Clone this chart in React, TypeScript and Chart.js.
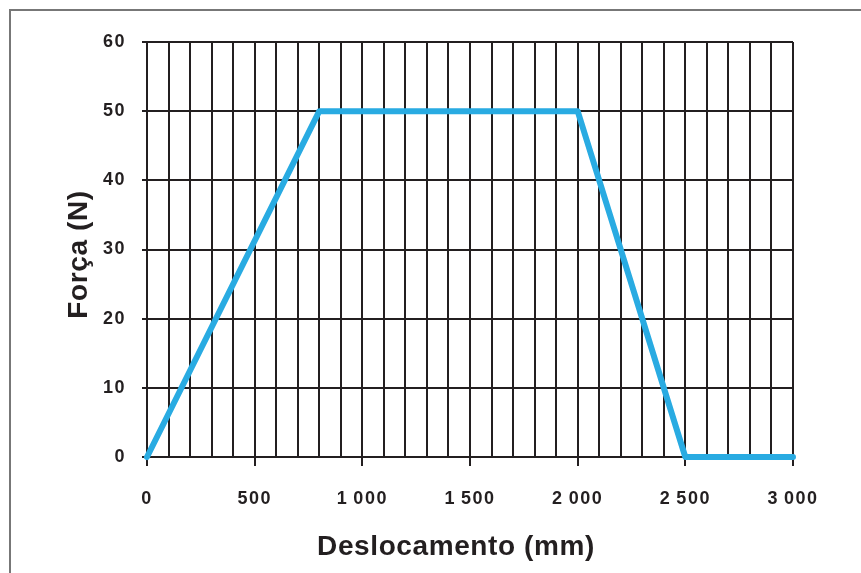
import React, { useEffect, useRef } from "react";
import { Chart, registerables } from "chart.js";

Chart.register(...registerables);

const displacement = [0, 800, 2000, 2500, 3000];
const force = [0, 50, 50, 0, 0];
const xLabeled = [0, 500, 1000, 1500, 2000, 2500, 3000];
const xTitle = "Deslocamento (mm)";
const yTitle = "Força (N)";

const FONT = "Liberation Sans, Arial, sans-serif";
const INK = "#231f20";

const fmt = (v: number) => {
  if (v >= 1000) {
    const th = Math.floor(v / 1000);
    const rest = String(v % 1000).padStart(3, "0");
    return th + "\u2009" + rest;
  }
  return String(v);
};

export default function App() {
  const ref = useRef<HTMLCanvasElement | null>(null);
  useEffect(() => {
    if (!ref.current) return;
    const spacingPlugin = {
      id: "spacing",
      beforeDraw(chart: any) {
        chart.ctx.letterSpacing = "1.5px";
      },
      afterDraw(chart: any) {
        const ctx = chart.ctx;
        const area = chart.chartArea;
        ctx.save();
        ctx.letterSpacing = "0.6px";
        ctx.fillStyle = INK;
        ctx.font = `bold 28px ${FONT}`;
        ctx.textAlign = "center";
        ctx.textBaseline = "alphabetic";
        const cx = (area.left + area.right) / 2 - 14;
        ctx.fillText(xTitle, cx, 555);
        ctx.translate(87, (area.top + area.bottom) / 2 + 5);
        ctx.rotate(-Math.PI / 2);
        ctx.fillText(yTitle, 0, 0);
        ctx.restore();
      },
    };
    const chart = new Chart(ref.current, {
      type: "line",
      data: {
        datasets: [
          {
            data: displacement.map((x, i) => ({ x, y: force[i] })),
            borderColor: "#29abe2",
            borderWidth: 6,
            pointRadius: 0,
            borderJoinStyle: "round",
            borderCapStyle: "round",
            tension: 0,
            clip: false as any,
          },
        ],
      },
      options: {
        animation: false,
        responsive: false,
        devicePixelRatio: 1,
        layout: { padding: { left: 0, top: 42, right: 68, bottom: 0 } },
        plugins: { legend: { display: false }, tooltip: { enabled: false } },
        scales: {
          x: {
            type: "linear",
            min: 0,
            max: 3000,
            afterFit(s: any) {
              s.height = 116;
            },
            ticks: {
              stepSize: 100,
              autoSkip: false,
              maxRotation: 0,
              padding: 22,
              color: INK,
              font: { family: FONT, size: 18, weight: "bold" },
              callback: (v: any) => (xLabeled.includes(Number(v)) ? fmt(Number(v)) : ""),
            },
            grid: {
              color: INK,
              lineWidth: 2,
              tickLength: 9,
              tickColor: (c: any) =>
                c.tick && Number(c.tick.value) % 500 === 0 ? INK : "rgba(0,0,0,0)",
            },
            border: { color: INK, width: 2 },
            title: { display: false, text: xTitle },
          },
          y: {
            type: "linear",
            min: 0,
            max: 60,
            afterFit(s: any) {
              s.width = 147;
            },
            ticks: {
              stepSize: 10,
              padding: 16,
              color: INK,
              font: { family: FONT, size: 18, weight: "bold" },
            },
            grid: {
              color: INK,
              lineWidth: 2,
              tickLength: 5,
            },
            border: { color: INK, width: 2 },
            title: { display: false, text: yTitle },
          },
        },
      },
      plugins: [spacingPlugin],
    } as any);
    return () => chart.destroy();
  }, []);
  return (
    <div
      style={{
        position: "fixed",
        left: 0,
        top: 0,
        width: 861,
        height: 573,
        background: "#fff",
        overflow: "hidden",
      }}
    >
      <canvas ref={ref} width={861} height={573} style={{ position: "absolute", left: 0, top: 0 }} />
      <div
        style={{
          position: "absolute",
          left: 9,
          top: 9,
          width: 900,
          height: 600,
          borderTop: "2px solid #777",
          borderLeft: "2px solid #777",
          pointerEvents: "none",
        }}
      />
    </div>
  );
}
